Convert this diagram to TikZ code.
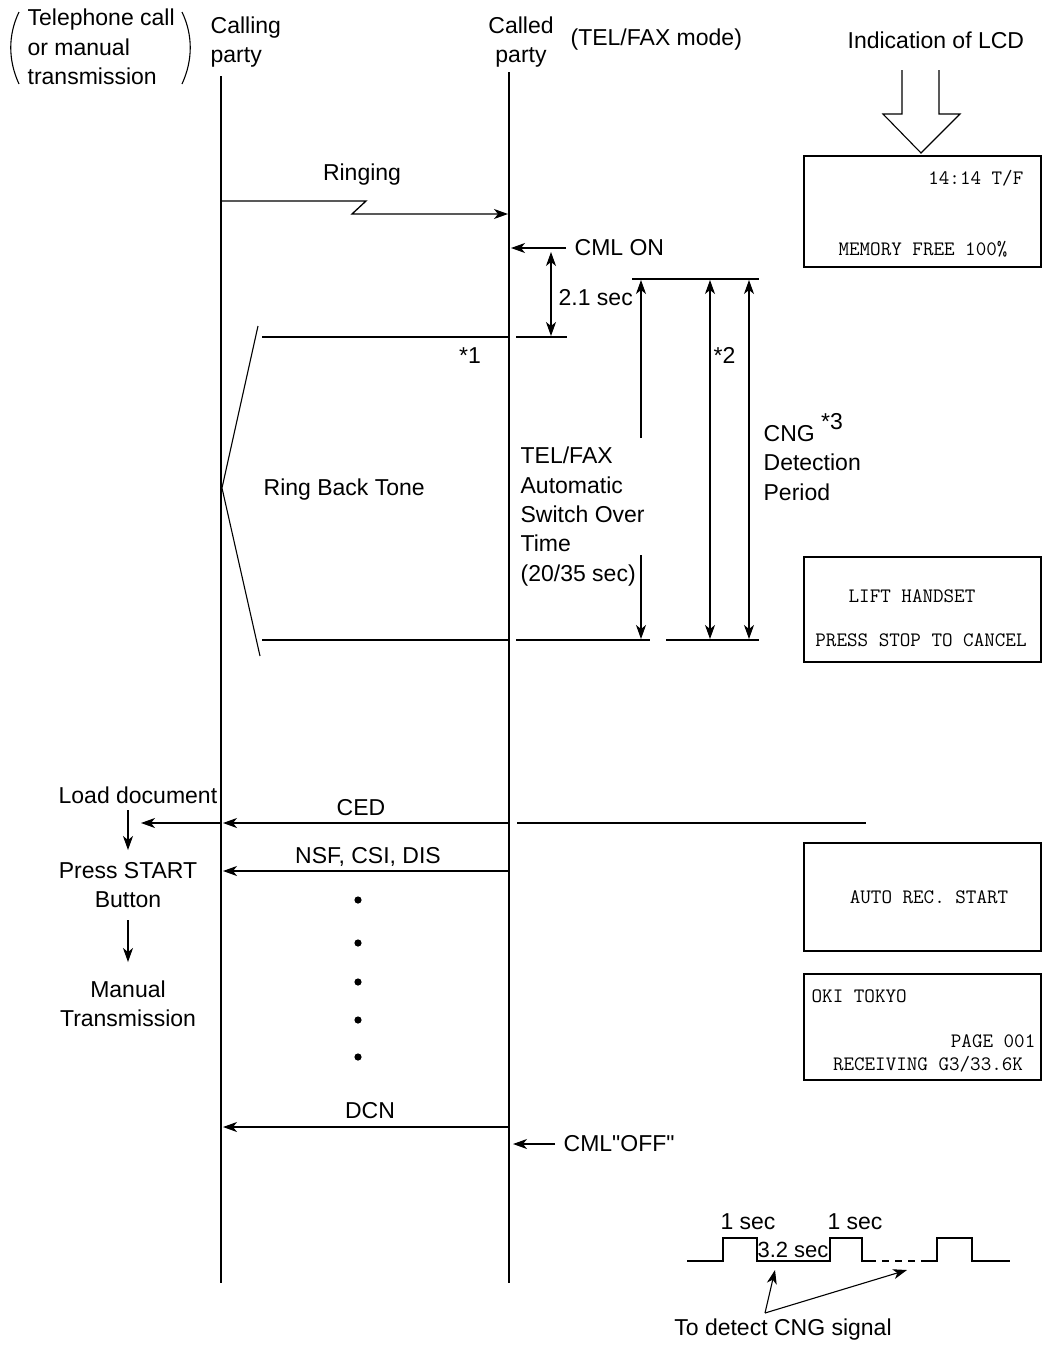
\documentclass[tikz,border=0pt]{standalone}
\usepackage{fontspec}
\setmainfont{Liberation Sans}
\usetikzlibrary{arrows.meta}
\newcommand\straightdq{\XeTeXglyph\XeTeXglyphindex "quotedbl"\relax}
\begin{document}
\begin{tikzpicture}[x=1pt,y=-1pt,line width=1.3pt,
  lbl/.style={inner sep=0pt,font=\fontsize{23}{29.4}\selectfont},
  lcd/.style={inner sep=0pt,font=\ttfamily\fontsize{20.5}{25}\selectfont},
  lcdbox/.style={draw,line width=1.1pt},
  arr/.style={-{Stealth[length=14pt,width=10pt,inset=4pt]}},
  darr/.style={{Stealth[length=14pt,width=10pt,inset=4pt]}-{Stealth[length=14pt,width=10pt,inset=4pt]}},
  tl/.style={line width=1.1pt}]
\path[use as bounding box] (0,0) rectangle (1043,1347);

% headers
\node[lbl,anchor=west,align=left] (tel) at (27,47) {Telephone call\\or manual\\transmission};
\draw[tl] (19,12) .. controls (8,35) and (8,60) .. (19,84);
\draw[tl] (182,12) .. controls (193,35) and (193,60) .. (182,84);
\node[lbl,anchor=west,align=left] (calling) at (210,42) {Calling\\party};
\node[lbl,align=center] (called) at (521,42) {Called\\party};
\node[lbl,anchor=west] (mode) at (570,40) {(TEL/FAX mode)};
\node[lbl,anchor=west] (ind) at (847,40) {Indication of LCD};

% lifelines
\coordinate (cgT) at (221,76); \coordinate (cgB) at (221,1283);
\coordinate (cdT) at (509,72); \coordinate (cdB) at (509,1283);
\draw (cgT) -- (cgB);
\draw (cdT) -- (cdB);

% ringing
\node[lbl] (ringing) at (362,175) {Ringing};
\coordinate (r0) at (221,201);
\draw[arr] (r0) -- (366,201) -- (352,214) -- (508,214);

% CML ON
\node[lbl,anchor=west] (cmlon) at (574,248) {CML ON};
\draw[arr] (cmlon.west) ++(-8,0) -- (511,248);

% 2.1 sec
\draw[tl] (516,337) -- (567,337);
\draw[darr,tl] (551,252) -- (551,336);
\node[lbl,anchor=west] (t21) at (558,298) {2.1 sec};

% ring back tone bracket
\draw[tl] (262,337) -- (509,337);
\draw[tl] (262,640) -- (509,640);
\draw[tl] (258,326) -- (222,488) -- (260,656);
\node[lbl,anchor=west] (rbt) at (263,490) {Ring Back Tone};
\node[lbl] (s1) at (470,356) {*1};

% timing lines
\draw[tl] (632,279) -- (759,279);
\draw[tl] (516,640) -- (650,640);
\draw[tl] (666,640) -- (759,640);
\draw[arr,tl] (641,438) -- (641,280);
\draw[arr,tl] (641,555) -- (641,639);
\draw[darr,tl] (710,280) -- (710,639);
\draw[darr,tl] (749,280) -- (749,639);
\node[lbl,anchor=west] (s2) at (713,355) {*2};
\node[lbl,anchor=west,align=left] (telfax) at (520,516.5) {TEL/FAX\\Automatic\\Switch Over\\Time\\(20/35 sec)};
\node[lbl,anchor=west,align=left] (cng) at (763,457) {CNG \raisebox{12pt}{*3}\\Detection\\Period};

% LCD indication arrow
\draw[tl] (902,70) -- (902,114) -- (883,114) -- (921,153) -- (960,114) -- (939,114) -- (939,70);

% LCD boxes
\draw[lcdbox] (804,156) rectangle (1041,267);
\node[lcd,anchor=east] (l1a) at (1024,178) {14:14 T/F};
\node[lcd] (l1b) at (923,249) {MEMORY FREE 100\%};
\draw[lcdbox] (804,557) rectangle (1041,662);
\node[lcd] (l2a) at (912,596) {LIFT HANDSET};
\node[lcd] (l2b) at (921,640) {PRESS STOP TO CANCEL};
\draw[lcdbox] (804,843) rectangle (1041,951);
\node[lcd] (l3a) at (929,897) {AUTO REC. START};
\draw[lcdbox] (804,974) rectangle (1041,1080);
\node[lcd,anchor=west] (l4a) at (811,996) {OKI TOKYO};
\node[lcd,anchor=east] (l4b) at (1036,1041) {PAGE 001};
\node[lcd] (l4c) at (928,1064) {RECEIVING G3/33.6K};

% messages
\node[lbl] (ced) at (361,808) {CED};
\draw[arr] (509,823) -- (223,823);
\draw[tl] (517,823) -- (866,823);
\draw[arr] (221,823) -- (141,823);
\node[lbl] (nsf) at (368,857) {NSF, CSI, DIS};
\draw[arr] (509,871) -- (223,871);
\foreach \yy in {900,943,982,1020,1057} \fill (358,\yy) circle (3.6pt);
\node[lbl] (dcn) at (370,1111) {DCN};
\draw[arr] (509,1127) -- (223,1127);
\node[lbl,anchor=west] (cmloff) at (563,1144) {CML\straightdq OFF\straightdq};
\draw[arr] (555,1144) -- (513,1144);

% left column
\node[lbl,anchor=west] (load) at (58,795) {Load document};
\node[lbl,align=center] (press) at (128,885) {Press START\\Button};
\node[lbl,align=center] (manual) at (128,1004) {Manual\\Transmission};
\draw[arr,tl] (128,810) -- (128,850);
\draw[arr,tl] (128,920) -- (128,962);

% CNG waveform
\draw[tl] (687,1261) -| (723,1238) -| (757,1261) -| (830,1238) -| (862,1261) -- (869,1261);
\draw[tl,dash pattern=on 7pt off 6pt] (869,1261) -- (925,1261);
\draw[tl] (925,1261) -| (937,1238) -| (972,1261) -- (1010,1261);
\node[lbl] (w1) at (748,1222) {1 sec};
\node[lbl] (w2) at (855,1222) {1 sec};
\node[lbl,font=\fontsize{22}{26}\selectfont] (w3) at (793,1250) {3.2 sec};
\node[lbl] (det) at (783,1330) {To detect CNG signal};
\coordinate (fork) at (765,1313);
\draw[arr,tl] (fork) -- (775,1270);
\draw[arr,tl] (fork) -- (907,1270);
\end{tikzpicture}
\end{document}
